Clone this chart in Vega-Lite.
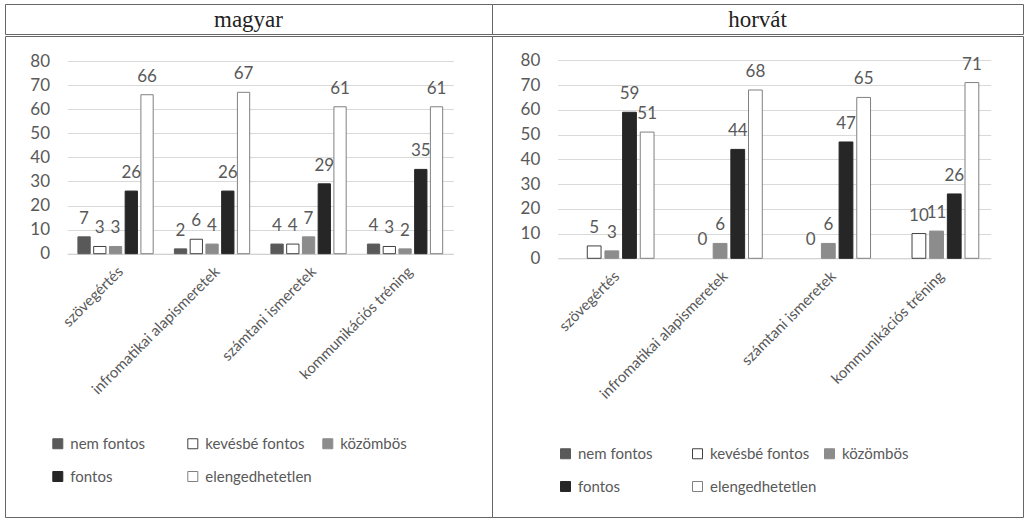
{
  "$schema": "https://vega.github.io/schema/vega-lite/v6.json",
  "padding": {"left": 4, "top": 3, "right": 0, "bottom": 0},
  "background": "white",
  "config": {
    "view": {"stroke": "#666666", "strokeWidth": 1},
    "concat": {"spacing": 0},
    "font": "Lato"
  },
  "datasets": {
    "bars": [
      {"lang": "magyar", "cat": "szövegértés", "series": "nem fontos", "value": 7},
      {"lang": "magyar", "cat": "szövegértés", "series": "kevésbé fontos", "value": 3},
      {"lang": "magyar", "cat": "szövegértés", "series": "közömbös", "value": 3},
      {"lang": "magyar", "cat": "szövegértés", "series": "fontos", "value": 26},
      {"lang": "magyar", "cat": "szövegértés", "series": "elengedhetetlen", "value": 66},
      {"lang": "magyar", "cat": "infromatikai alapismeretek", "series": "nem fontos", "value": 2},
      {"lang": "magyar", "cat": "infromatikai alapismeretek", "series": "kevésbé fontos", "value": 6},
      {"lang": "magyar", "cat": "infromatikai alapismeretek", "series": "közömbös", "value": 4},
      {"lang": "magyar", "cat": "infromatikai alapismeretek", "series": "fontos", "value": 26},
      {"lang": "magyar", "cat": "infromatikai alapismeretek", "series": "elengedhetetlen", "value": 67},
      {"lang": "magyar", "cat": "számtani ismeretek", "series": "nem fontos", "value": 4},
      {"lang": "magyar", "cat": "számtani ismeretek", "series": "kevésbé fontos", "value": 4},
      {"lang": "magyar", "cat": "számtani ismeretek", "series": "közömbös", "value": 7},
      {"lang": "magyar", "cat": "számtani ismeretek", "series": "fontos", "value": 29},
      {"lang": "magyar", "cat": "számtani ismeretek", "series": "elengedhetetlen", "value": 61},
      {"lang": "magyar", "cat": "kommunikációs tréning", "series": "nem fontos", "value": 4},
      {"lang": "magyar", "cat": "kommunikációs tréning", "series": "kevésbé fontos", "value": 3},
      {"lang": "magyar", "cat": "kommunikációs tréning", "series": "közömbös", "value": 2},
      {"lang": "magyar", "cat": "kommunikációs tréning", "series": "fontos", "value": 35},
      {"lang": "magyar", "cat": "kommunikációs tréning", "series": "elengedhetetlen", "value": 61},
      {"lang": "horvát", "cat": "szövegértés", "series": "kevésbé fontos", "value": 5},
      {"lang": "horvát", "cat": "szövegértés", "series": "közömbös", "value": 3},
      {"lang": "horvát", "cat": "szövegértés", "series": "fontos", "value": 59},
      {"lang": "horvát", "cat": "szövegértés", "series": "elengedhetetlen", "value": 51},
      {"lang": "horvát", "cat": "infromatikai alapismeretek", "series": "kevésbé fontos", "value": 0},
      {"lang": "horvát", "cat": "infromatikai alapismeretek", "series": "közömbös", "value": 6},
      {"lang": "horvát", "cat": "infromatikai alapismeretek", "series": "fontos", "value": 44},
      {"lang": "horvát", "cat": "infromatikai alapismeretek", "series": "elengedhetetlen", "value": 68},
      {"lang": "horvát", "cat": "számtani ismeretek", "series": "kevésbé fontos", "value": 0},
      {"lang": "horvát", "cat": "számtani ismeretek", "series": "közömbös", "value": 6},
      {"lang": "horvát", "cat": "számtani ismeretek", "series": "fontos", "value": 47},
      {"lang": "horvát", "cat": "számtani ismeretek", "series": "elengedhetetlen", "value": 65},
      {"lang": "horvát", "cat": "kommunikációs tréning", "series": "kevésbé fontos", "value": 10},
      {"lang": "horvát", "cat": "kommunikációs tréning", "series": "közömbös", "value": 11},
      {"lang": "horvát", "cat": "kommunikációs tréning", "series": "fontos", "value": 26},
      {"lang": "horvát", "cat": "kommunikációs tréning", "series": "elengedhetetlen", "value": 71}
    ]
  },
  "spacing": 0,
  "vconcat": [
    {
      "spacing": 0,
      "bounds": "flush",
      "hconcat": [
        {
          "data": {"values": [{"lang": "magyar"}]},
          "width": 487, "height": 30,
          "mark": {"type": "text", "font": "Liberation Serif", "fontSize": 23, "baseline": "alphabetic", "dy": 8, "color": "#222222"},
          "encoding": {
            "x": {"field": "lang", "type": "nominal", "axis": null},
            "text": {"field": "lang", "type": "nominal"}
          }
        },
        {
          "data": {"values": [{"lang": "horvát"}]},
          "width": 531, "height": 30,
          "mark": {"type": "text", "font": "Liberation Serif", "fontSize": 23, "baseline": "alphabetic", "dy": 8, "color": "#222222"},
          "encoding": {
            "x": {"field": "lang", "type": "nominal", "axis": null},
            "text": {"field": "lang", "type": "nominal"}
          }
        }
      ]
    },
    {
      "spacing": 0,
      "bounds": "flush",
      "resolve": {
        "scale": {"x": "independent", "y": "independent", "xOffset": "independent", "color": "independent", "stroke": "independent"},
        "axis": {"x": "independent", "y": "independent"},
        "legend": {"color": "independent", "stroke": "independent"}
      },
      "hconcat": [
        {
          "data": {"name": "bars"},
          "transform": [{"filter": "datum.lang === 'magyar'"}],
          "width": 487, "height": 481,
          "encoding": {
            "x": {
              "field": "cat", "type": "nominal",
              "sort": ["szövegértés", "infromatikai alapismeretek", "számtani ismeretek", "kommunikációs tréning"],
              "scale": {"range": [62.3, 448.3], "paddingInner": 0.22, "paddingOuter": 0.11},
              "axis": {"title": null, "orient": "bottom", "offset": -263.3, "labelAngle": -45, "labelFontSize": 15, "labelColor": "#595959", "labelFont": "Lato", "ticks": false, "domainColor": "#d0d0d0", "labelPadding": 10, "labelLimit": 400}
            },
            "xOffset": {
              "field": "series", "type": "nominal",
              "scale": {"domain": ["nem fontos", "kevésbé fontos", "közömbös", "fontos", "elengedhetetlen"], "paddingInner": 0.22}
            },
            "y": {
              "field": "value", "type": "quantitative",
              "scale": {"domain": [0, 80], "range": [217.7, 25], "nice": false, "zero": true},
              "axis": {"title": null, "values": [0, 10, 20, 30, 40, 50, 60, 70, 80], "offset": -44.6, "labelPadding": 0, "ticks": false, "domain": false, "gridColor": "#d9d9d9", "labelFontSize": 17, "labelColor": "#595959", "labelFont": "Lato"}
            }
          },
          "layer": [
            {
              "transform": [{"filter": "datum.value > 0"}],
              "mark": {"type": "bar", "strokeWidth": 1},
              "encoding": {
                "color": {
                  "field": "series", "type": "nominal",
                  "scale": {"domain": ["nem fontos", "kevésbé fontos", "közömbös", "fontos", "elengedhetetlen"], "range": ["#595959", "#ffffff", "#8c8c8c", "#262626", "#ffffff"]},
                  "legend": {"orient": "none", "legendX": 45.3, "legendY": 400, "direction": "horizontal", "columns": 3, "gridAlign": "all", "title": null, "symbolType": "square", "symbolSize": 100, "labelFontSize": 15, "labelColor": "#595959", "labelFont": "Lato", "columnPadding": 8, "rowPadding": 17, "labelOffset": 5, "padding": 0, "symbolStrokeWidth": 1}
                },
                "stroke": {
                  "field": "series", "type": "nominal",
                  "scale": {"domain": ["nem fontos", "kevésbé fontos", "közömbös", "fontos", "elengedhetetlen"], "range": ["#595959", "#404040", "#8c8c8c", "#262626", "#808080"]}
                }
              }
            },
            {
              "mark": {"type": "text", "baseline": "alphabetic", "dy": -13, "fontSize": 17, "color": "#595959", "font": "Lato"},
              "encoding": {"text": {"field": "value", "type": "quantitative"}}
            }
          ]
        },
        {
          "data": {"name": "bars"},
          "transform": [{"filter": "datum.lang === 'horvát'"}],
          "width": 531, "height": 481,
          "encoding": {
            "x": {
              "field": "cat", "type": "nominal",
              "sort": ["szövegértés", "infromatikai alapismeretek", "számtani ismeretek", "kommunikációs tréning"],
              "scale": {"range": [65.7, 498.7], "paddingInner": 0.22, "paddingOuter": 0.11},
              "axis": {"title": null, "orient": "bottom", "offset": -258.7, "labelAngle": -45, "labelFontSize": 15, "labelColor": "#595959", "labelFont": "Lato", "ticks": false, "domainColor": "#d0d0d0", "labelPadding": 10, "labelLimit": 400}
            },
            "xOffset": {
              "field": "series", "type": "nominal",
              "scale": {"domain": ["nem fontos", "kevésbé fontos", "közömbös", "fontos", "elengedhetetlen"], "paddingInner": 0.22}
            },
            "y": {
              "field": "value", "type": "quantitative",
              "scale": {"domain": [0, 80], "range": [222.3, 24.3], "nice": false, "zero": true},
              "axis": {"title": null, "values": [0, 10, 20, 30, 40, 50, 60, 70, 80], "offset": -47.8, "labelPadding": 0, "ticks": false, "domain": false, "gridColor": "#d9d9d9", "labelFontSize": 17, "labelColor": "#595959", "labelFont": "Lato"}
            }
          },
          "layer": [
            {
              "transform": [{"filter": "datum.value > 0"}],
              "mark": {"type": "bar", "strokeWidth": 1},
              "encoding": {
                "color": {
                  "field": "series", "type": "nominal",
                  "scale": {"domain": ["nem fontos", "kevésbé fontos", "közömbös", "fontos", "elengedhetetlen"], "range": ["#595959", "#ffffff", "#8c8c8c", "#262626", "#ffffff"]},
                  "legend": {"orient": "none", "legendX": 66, "legendY": 410, "direction": "horizontal", "columns": 3, "gridAlign": "all", "title": null, "symbolType": "square", "symbolSize": 100, "labelFontSize": 15, "labelColor": "#595959", "labelFont": "Lato", "columnPadding": 5, "rowPadding": 17, "labelOffset": 5, "padding": 0, "symbolStrokeWidth": 1}
                },
                "stroke": {
                  "field": "series", "type": "nominal",
                  "scale": {"domain": ["nem fontos", "kevésbé fontos", "közömbös", "fontos", "elengedhetetlen"], "range": ["#595959", "#404040", "#8c8c8c", "#262626", "#808080"]}
                }
              }
            },
            {
              "mark": {"type": "text", "baseline": "alphabetic", "dy": -13, "fontSize": 17, "color": "#595959", "font": "Lato"},
              "encoding": {"text": {"field": "value", "type": "quantitative"}}
            }
          ]
        }
      ]
    }
  ]
}
